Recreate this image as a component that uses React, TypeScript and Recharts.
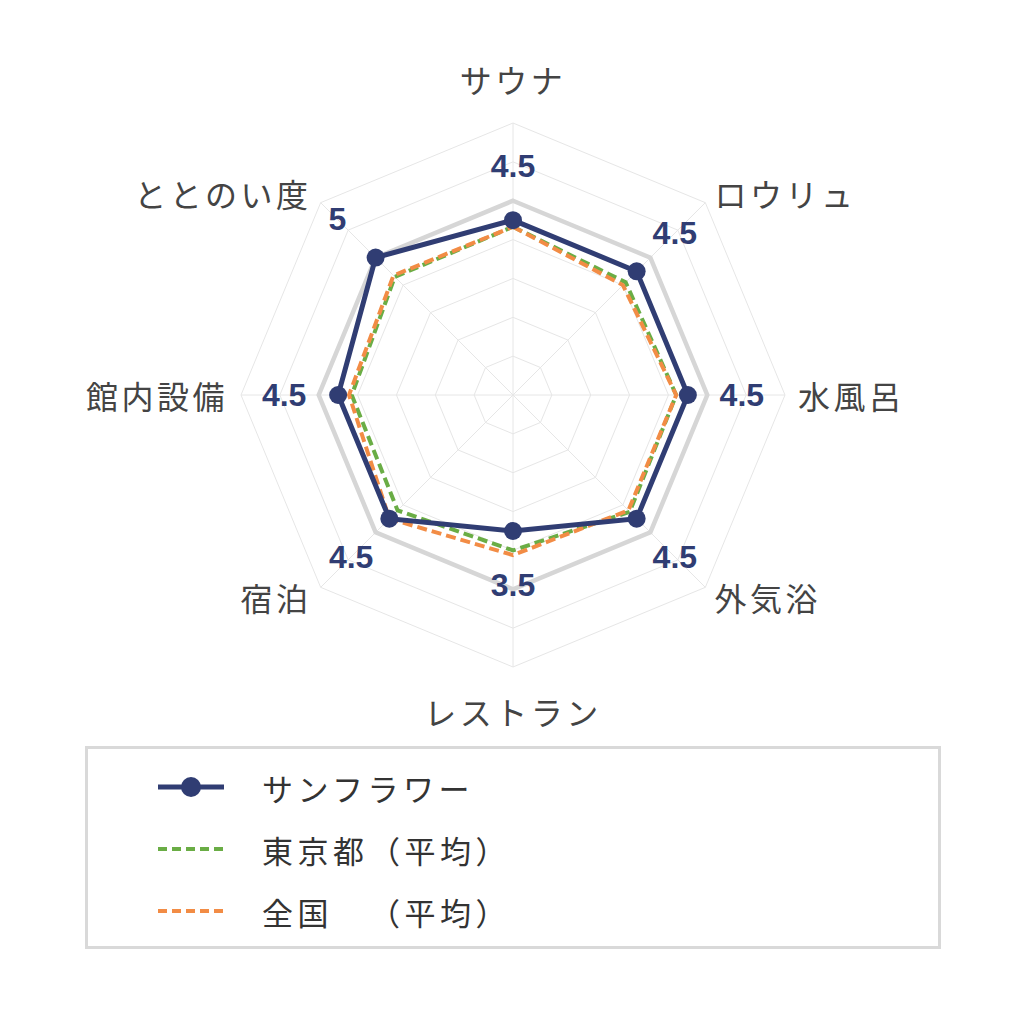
import React from 'react';
import { RadarChart, Radar, PolarGrid, PolarAngleAxis, PolarRadiusAxis, Legend } from 'recharts';

const categories = ['サウナ', 'ロウリュ', '水風呂', '外気浴', 'レストラン', '宿泊', '館内設備', 'ととのい度'];
const sunflower = [4.5, 4.5, 4.5, 4.5, 3.5, 4.5, 4.5, 5];
const tokyoAvg = [4.33, 4.1, 4.2, 4.25, 4.0, 4.2, 4.15, 4.3];
const nationalAvg = [4.33, 4.0, 4.2, 4.2, 4.12, 4.5, 4.22, 4.35];
const maxRing = [5, 5, 5, 5, 5, 5, 5, 5];

const seriesNames = ['サンフラワー', '東京都（平均）', '全国　（平均）'];

const NAVY = '#303d73';
const GREEN = '#6aad45';
const ORANGE = '#f28c45';

const CX = 513;
const CY = 395;
const OUTER = 272;

const data = categories.map((name, i) => ({
    name,
    sunflower: sunflower[i],
    tokyo: tokyoAvg[i],
    national: nationalAvg[i],
    max: maxRing[i],
}));

const AngleTick = (props: any) => {
    const { x, y, payload } = props;
    const dx = x - CX;
    const dy = y - CY;
    const len = Math.sqrt(dx * dx + dy * dy) || 1;
    const ux = dx / len;
    const uy = dy / len;
    const vx = CX + ux * OUTER;
    const vy = CY + uy * OUTER;
    let tx = vx;
    let ty = vy;
    let anchor: 'start' | 'middle' | 'end' = 'middle';
    if (Math.abs(ux) < 0.01) {
        ty = vy + uy * 44;
    } else {
        tx = vx + ux * 13;
        ty = vy + uy * 13;
        anchor = ux > 0 ? 'start' : 'end';
    }
    return (
        <text
            x={tx}
            y={ty}
            textAnchor={anchor}
            dominantBaseline="central"
            fill="#444"
            fontSize={32}
            letterSpacing={3.5}
            fontFamily='"Noto Sans CJK JP", "Noto Sans", sans-serif'
        >
            {payload.value}
        </text>
    );
};

// dot + value label for the main series
const ValueDot = (props: any) => {
    const { cx, cy, index } = props;
    if (cx == null || cy == null) return null;
    const dx = cx - CX;
    const dy = cy - CY;
    const len = Math.sqrt(dx * dx + dy * dy) || 1;
    const lx = cx + (dx / len) * 54;
    const ly = cy + (dy / len) * 54;
    return (
        <g key={`dot-${index}`}>
            <circle cx={cx} cy={cy} r={9} fill={NAVY} />
            <text
                x={lx}
                y={ly}
                textAnchor="middle"
                dominantBaseline="central"
                fill={NAVY}
                fontSize={32}
                fontWeight="bold"
                fontFamily='"Liberation Sans", Arial, sans-serif'
            >
                {sunflower[index]}
            </text>
        </g>
    );
};

const LegendIcon = ({ kind }: { kind: number }) => {
    if (kind === 0) {
        return (
            <svg width={66} height={24}>
                <line x1={0} y1={12} x2={66} y2={12} stroke={NAVY} strokeWidth={5} />
                <circle cx={33} cy={12} r={10} fill={NAVY} />
            </svg>
        );
    }
    return (
        <svg width={66} height={24}>
            <line x1={0} y1={12} x2={66} y2={12} stroke={kind === 1 ? GREEN : ORANGE} strokeWidth={4} strokeDasharray="9 5" />
        </svg>
    );
};

const LegendName = ({ name }: { name: string }) => {
    const cut = name.indexOf('（');
    if (cut < 0) return <>{name}</>;
    return (
        <>
            <span style={{ display: 'inline-block', width: 107 }}>{name.slice(0, cut).trim()}</span>
            {name.slice(cut)}
        </>
    );
};

const renderLegend = () => (
    <div
        style={{
            position: 'relative',
            boxSizing: 'border-box',
            width: 856,
            height: 203,
            border: '3px solid #d9d9d9',
            background: '#fff',
        }}
    >
        {seriesNames.map((name, i) => (
            <div
                key={name}
                style={{
                    position: 'absolute',
                    left: 70,
                    top: 38 + i * 62 - 22,
                    height: 44,
                    display: 'flex',
                    alignItems: 'center',
                }}
            >
                <LegendIcon kind={i} />
                <span
                    style={{
                        marginLeft: 38,
                        fontSize: 31,
                        color: '#333',
                        letterSpacing: 4.5,
                        fontFamily: '"Noto Sans CJK JP", "Noto Sans", sans-serif',
                        whiteSpace: 'pre',
                    }}
                >
                    <LegendName name={name} />
                </span>
            </div>
        ))}
    </div>
);

export default function App() {
    return (
        <div style={{ position: 'absolute', left: 0, top: 0, width: 1024, height: 1024, background: '#fff' }}>
            <RadarChart
                width={1024}
                height={1024}
                data={data}
                cx={CX}
                cy={CY}
                outerRadius={OUTER}
                margin={{ top: 0, right: 0, bottom: 0, left: 0 }}
            >
                <PolarGrid stroke="#e6e6e6" strokeWidth={1} />
                <PolarAngleAxis dataKey="name" tick={<AngleTick />} tickLine={false} axisLine={false} />
                <PolarRadiusAxis domain={[0, 7]} tickCount={8} tick={false} axisLine={false} />
                <Radar
                    dataKey="max"
                    stroke="#d6d6d6"
                    strokeWidth={4.5}
                    fill="none"
                    fillOpacity={0}
                    legendType="none"
                    isAnimationActive={false}
                />
                <Radar
                    name={seriesNames[1]}
                    dataKey="tokyo"
                    stroke={GREEN}
                    strokeWidth={4}
                    strokeDasharray="10 5"
                    fill="none"
                    fillOpacity={0}
                    isAnimationActive={false}
                />
                <Radar
                    name={seriesNames[2]}
                    dataKey="national"
                    stroke={ORANGE}
                    strokeWidth={4}
                    strokeDasharray="10 5"
                    fill="none"
                    fillOpacity={0}
                    isAnimationActive={false}
                />
                <Radar
                    name={seriesNames[0]}
                    dataKey="sunflower"
                    stroke={NAVY}
                    strokeWidth={5}
                    fill="none"
                    fillOpacity={0}
                    dot={<ValueDot />}
                    isAnimationActive={false}
                />
                <Legend
                    content={renderLegend}
                    verticalAlign="bottom"
                    wrapperStyle={{ position: 'absolute', left: 85, top: 746, width: 856, height: 203, bottom: 'auto' }}
                />
            </RadarChart>
        </div>
    );
}
